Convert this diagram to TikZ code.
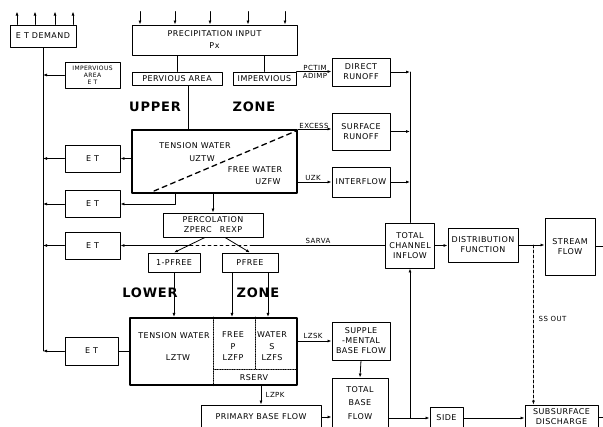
\documentclass[tikz,border=0pt]{standalone}
\usepackage{fontspec}
\setmainfont{DejaVu Sans}[LetterSpace=6]
\usetikzlibrary{arrows.meta}
\begin{document}
\begin{tikzpicture}[x=1pt,y=-1pt,line cap=round,line join=round,
  box/.style={draw,line width=.9pt,inner sep=1pt,align=center,font=\fontsize{8}{10}\selectfont},
  zone/.style={draw,line width=2pt,inner sep=0pt},
  arr/.style={-{Latex[length=4pt,width=3pt]}},
  link/.style={line width=.8pt},
  txt/.style={font=\fontsize{8}{9}\selectfont,inner sep=0pt},
  lbl/.style={font=\fontsize{7}{8}\selectfont,inner sep=.5pt},
  big/.style={font=\bfseries\fontsize{13}{14}\selectfont}]
\useasboundingbox (0,0) rectangle (603,427);
\clip (0,0) rectangle (603,427);
% boxes
\node[box,minimum width=66,minimum height=22] (etd) at (43,36) {E T DEMAND};
\node[box,minimum width=55,minimum height=26,font=\fontsize{6}{6.8}\selectfont] (etimp) at (92.5,75) {IMPERVIOUS\\AREA\\E T};
\node[box,minimum width=165,minimum height=30,font=\fontsize{8}{12}\selectfont] (precip) at (214.5,40) {PRECIPITATION INPUT\\Px};
\node[box,minimum width=90,minimum height=13] (perv) at (177,78.5) {PERVIOUS AREA};
\node[box,minimum width=63,minimum height=13] (impv) at (264.5,78.5) {IMPERVIOUS};
\node[box,minimum width=58,minimum height=28] (direct) at (361,72) {DIRECT\\RUNOFF};
\node[zone,minimum width=165,minimum height=63] (upper) at (214.5,161.5) {};
\node[box,minimum width=58,minimum height=37] (surf) at (361,131.5) {SURFACE\\RUNOFF};
\node[box,minimum width=58,minimum height=30] (inter) at (361,182) {INTERFLOW};
\node[box,minimum width=49,minimum height=45] (tci) at (410,245.5) {TOTAL\\CHANNEL\\INFLOW};
\node[box,minimum width=70,minimum height=34] (df) at (483,245) {DISTRIBUTION\\FUNCTION};
\node[box,minimum width=50,minimum height=57] (sf) at (570,246.5) {STREAM\\FLOW};
\foreach \n/\yy in {1/158.5,2/204,3/245.5}
  \node[box,minimum width=55,minimum height=27] (et\n) at (92.5,\yy) {E T};
\node[box,minimum width=53,minimum height=28] (et4) at (91.5,351) {E T};
\node[box,minimum width=100,minimum height=24] (perc) at (213,225) {PERCOLATION\\ZPERC\quad REXP};
\node[box,minimum width=52,minimum height=19] (pfa) at (174,262.5) {1-PFREE};
\node[box,minimum width=56,minimum height=19] (pfb) at (250,262.5) {PFREE};
\node[zone,minimum width=167,minimum height=67] (lower) at (213.5,351.5) {};
\node[box,minimum width=58,minimum height=38] (supp) at (361,341) {SUPPLE\\-MENTAL\\BASE FLOW};
\node[box,minimum width=56,minimum height=50,font=\fontsize{8}{13.5}\selectfont] (tbf) at (360,403) {TOTAL\\BASE\\FLOW};
\node[box,minimum width=120,minimum height=24] (pbf) at (261,417) {PRIMARY BASE FLOW};
\node[box,minimum width=33,minimum height=22] (side) at (446.5,418) {SIDE};
\node[box,minimum width=73,minimum height=24] (ssd) at (561.5,417) {SUBSURFACE\\DISCHARGE};
% zone texts
\node[big] (uup) at (155,107) {UPPER};
\node[big] (uzone) at (254,107) {ZONE};
\node[big] (llow) at (150,293) {LOWER};
\node[big] (lzone) at (258,293) {ZONE};
\node[txt] (utw) at (195,146) {TENSION WATER};
\node[txt] (uztw) at (202,159) {UZTW};
\node[txt] (ufw) at (255,170) {FREE WATER};
\node[txt] (uzfw) at (268,182) {UZFW};
\draw[line width=1.3pt,dash pattern=on 5pt off 4pt]
  ([shift={(23,-3)}]upper.south west) -- ([shift={(-2,2)}]upper.north east);
\node[txt] (ltw) at (174,336) {TENSION WATER};
\node[txt] (lztw) at (178,358) {LZTW};
\node[txt] (lfree) at (233,335) {FREE};
\node[txt] (lp) at (233,347) {P};
\node[txt] (lzfp) at (233,358) {LZFP};
\node[txt] (lwater) at (272,335) {WATER};
\node[txt] (ls) at (272,347) {S};
\node[txt] (lzfs) at (272,358) {LZFS};
\node[txt] (rserv) at (254,377.5) {RSERV};
\coordinate (rs) at ([yshift=17]lower.south east);
\draw[densely dotted,line width=.7pt] ([xshift=-.5]lower.north) -- ([xshift=-.5]lower.south);
\draw[densely dotted,line width=.7pt] ([xshift=41.5]lower.north) -- ([xshift=41.5]lower.north |- rs);
\draw[densely dotted,line width=.7pt] (rs -| lower.north) -- (rs);
% labels on flows
\node[lbl,anchor=south] (lpctim) at (315,71) {PCTIM};
\node[lbl,anchor=north] (ladimp) at (315,73) {ADIMP};
\node[lbl,anchor=south] (lexcess) at (314,129) {EXCESS};
\node[lbl,anchor=south] (luzk) at (313,181) {UZK};
\node[lbl,anchor=south] (lsarva) at (318,244) {SARVA};
\node[lbl,anchor=south] (llzsk) at (313,339.5) {LZSK};
\node[lbl,anchor=west] (llzpk) at (265,395) {LZPK};
\node[lbl,anchor=west] (lssout) at (538,319) {SS OUT};
% evaporation and rain
\foreach \xx in {-26,-8,12,30}
  \draw[link,arr] ([xshift=\xx]etd.north) -- ++(0,-13);
\foreach \xx in {-74.5,-39.5,-4.5,33.5,70.5}
  \draw[link,arr] ([shift={(\xx,-13)}]precip.north) -- ([xshift=\xx]precip.north);
% upper zone
\draw[link] (perv.north) -- (perv.north |- precip.south);
\draw[link] (impv.north) -- (impv.north |- precip.south);
\draw[link,arr] (impv.north east) -- (impv.north east -| direct.west);
\draw[link] ([xshift=11]perv.south) -- ([xshift=11]perv.south |- upper.north);
\draw[link,arr] (upper.north east) -- (upper.north east -| surf.west);
\draw[link,arr] (upper.east |- inter) -- (inter.west);
% channel
\foreach \b in {direct,surf,inter}
  \draw[link,arr] (\b.east) -- (\b.east -| tci.north);
\draw[link] (tci.north |- direct.east) -- (tci.north);
\draw[link,arr] (tci.east) -- (tci.east -| df.west);
\draw[link,arr] (df.east) -- (df.east -| sf.west);
\draw[link] (sf.east) -- ++(40,0);
\coordinate (ssj) at ([xshift=15]df.east);
\draw[line width=.6pt,dash pattern=on 3pt off 2pt,arr] (ssj) -- (ssj |- ssd.north);
% evapotranspiration
\draw[link] (etd.south) -- (etd.south |- et4.west);
\foreach \b in {etimp,et1,et2,et3,et4}
  \draw[link,arr] (\b.west) -- (\b.west -| etd.south);
\draw[link,arr] (upper.west |- et1) -- (et1.east);
\draw[link,arr] ([xshift=-39.5]upper.south) |- (et2.east);
\draw[link,arr] (perc.north |- upper.south) -- (perc.north);
\draw[link,arr] ([xshift=-8]perc.south) -- (pfa.north);
\draw[link,arr] ([xshift=12]perc.south) -- (pfb.north);
\coordinate (sarva) at ([xshift=-23]perc.south |- tci.west);
\coordinate (sarvb) at ([xshift=40]perc.south |- tci.west);
\draw[link] (tci.west) -- (sarvb);
\draw[link,dashed] (sarvb) -- (sarva);
\draw[link,arr] (sarva) -- (et3.east);
% lower zone
\draw[link,arr] (pfa.south) -- (pfa.south |- lower.north);
\foreach \xx in {-18,18}
  \draw[link,arr] ([xshift=\xx]pfb.south) -- ([xshift=\xx]pfb.south |- lower.north);
\draw[link] (et4.east) -- (et4.east -| lower.west);
\draw[link,arr] (lower.east |- supp) -- (supp.west);
\draw[link,arr] (supp.south) -- (tbf.north);
\draw[link,arr] (pbf.north |- lower.south) -- (pbf.north);
\draw[link,arr] (pbf.east) -- (pbf.east -| tbf.west);
\draw[link,arr] (tbf.east |- side) -- (side.west);
\draw[link,arr] (tci.south |- side) -- (tci.south);
\draw[link,arr] (side.east) -- (side.east -| ssd.west);
\draw[link] (ssd.east) -- ++(20,0);
\end{tikzpicture}
\end{document}
